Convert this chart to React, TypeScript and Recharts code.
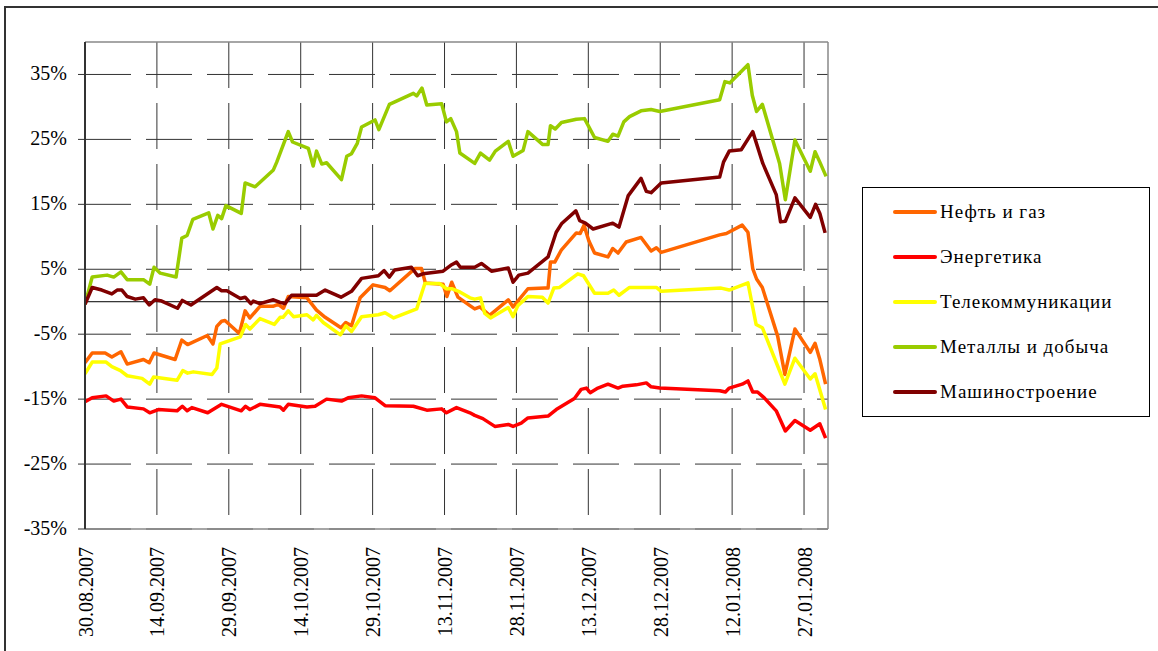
import { LineChart, Line, XAxis, YAxis, CartesianGrid, ReferenceLine, Legend } from 'recharts';

const FONT = "'Liberation Serif', Tinos, 'Times New Roman', 'DejaVu Serif', serif";

const seriesNames = ['Нефть и газ', 'Энергетика', 'Телекоммуникации', 'Металлы и добыча', 'Машиностроение'];
const seriesColors = ['#FF6600', '#FF0000', '#FFFF00', '#99CC00', '#800000'];

// x = days since 30.08.2007
const tickDays = [0, 15, 30, 45, 60, 75, 90, 105, 120, 135, 150];
const tickLabels = [
  '30.08.2007', '14.09.2007', '29.09.2007', '14.10.2007', '29.10.2007', '13.11.2007',
  '28.11.2007', '13.12.2007', '28.12.2007', '12.01.2008', '27.01.2008',
];
const yTicks = [-35, -25, -15, -5, 5, 15, 25, 35];

// [day, % change]
const oilGas = [
  [0, -9.4], [1.5, -7.9], [4.2, -7.9], [5.6, -8.5], [7.5, -7.7], [8.8, -9.6], [12.2, -8.9], [13.4, -9.4],
  [14.4, -7.9], [18.8, -8.9], [20.2, -5.9], [21.4, -6.6], [25.5, -5.2], [26.7, -6.5], [27.5, -3.8], [28.5, -3.0],
  [29.2, -2.9], [32.2, -4.9], [33.4, -1.4], [34.4, -2.5], [36.5, -0.7], [39.2, -0.7], [40.3, -0.4], [41.4, -1.0],
  [42.4, 0.8], [46.3, 0.6], [48.3, -1.3], [50.1, -2.4], [53.4, -4.0], [54.4, -3.2], [55.6, -3.7], [57.4, 0.6],
  [60.1, 2.6], [62.6, 2.2], [63.6, 1.7], [68.8, 5.1], [70.2, 5.1], [71.0, 2.9], [74.7, 2.7], [75.5, 0.8],
  [76.5, 3.0], [77.8, 0.7], [80.3, -0.6], [81.3, -1.1], [82.4, -0.8], [84.4, -2.1], [88.3, 0.3], [89.3, -0.8],
  [92.4, 2.0], [95.9, 2.1], [96.6, 2.1], [97.1, 6.1], [98.0, 6.1], [99.4, 8.0], [102.5, 10.6], [103.3, 10.5],
  [104.1, 11.8], [105.1, 9.4], [106.3, 7.5], [109.1, 6.9], [110.1, 8.2], [111.2, 7.5], [112.9, 9.2], [116.0, 9.9],
  [118.1, 7.8], [119.2, 8.3], [120.2, 7.6], [132.4, 10.3], [133.8, 10.5], [137.1, 11.8], [138.3, 10.7], [139.3, 5.1],
  [140.1, 3.5], [141.3, 2.2], [144.5, -5.3], [146.0, -11.2], [148.1, -4.2], [151.3, -7.8], [152.3, -6.4], [153.3, -8.9],
  [154.5, -12.7],
];

const energy = [
  [0, -15.4], [1.5, -14.8], [4.4, -14.5], [6.0, -15.3], [7.5, -15.0], [8.8, -16.2], [12.2, -16.5], [13.5, -17.1],
  [15.3, -16.6], [19.2, -16.8], [20.3, -16.1], [21.3, -16.8], [22.3, -16.3], [25.6, -17.1], [28.5, -15.8], [32.6, -16.8],
  [33.5, -16.1], [34.4, -16.6], [36.5, -15.8], [40.7, -16.2], [41.4, -16.7], [42.4, -15.8], [46.3, -16.2], [48.0, -16.1],
  [50.4, -15.0], [53.5, -15.3], [54.9, -14.8], [57.7, -14.5], [60.5, -14.8], [62.6, -16.0], [68.5, -16.1], [71.3, -16.7],
  [74.4, -16.5], [75.4, -17.1], [77.5, -16.3], [80.3, -17.1], [81.3, -17.5], [83.0, -18.0], [85.5, -19.2], [88.3, -18.9],
  [89.3, -19.2], [91.0, -18.7], [92.4, -17.9], [96.6, -17.6], [98.3, -16.6], [102.1, -14.9], [103.5, -13.5], [104.6, -13.3],
  [105.4, -14.0], [107.0, -13.3], [109.1, -12.7], [111.2, -13.3], [112.2, -13.0], [115.0, -12.8], [117.1, -12.5], [118.1, -13.1],
  [119.9, -13.3], [132.4, -13.7], [133.6, -13.9], [134.4, -13.3], [137.1, -12.7], [138.3, -12.2], [139.3, -13.9], [140.3, -13.9],
  [141.7, -14.8], [144.2, -16.8], [146.1, -19.9], [148.1, -18.3], [151.3, -19.8], [153.3, -18.8], [154.5, -21.0],
];

const telecom = [
  [0, -11.1], [1.5, -9.3], [4.4, -9.3], [5.6, -10.0], [7.4, -10.6], [8.8, -11.4], [11.9, -11.8], [13.5, -12.7],
  [14.3, -11.6], [19.2, -12.1], [20.4, -10.6], [21.4, -11.0], [22.6, -10.8], [26.5, -11.2], [27.5, -10.2], [28.2, -6.5],
  [32.4, -5.4], [33.5, -3.5], [34.4, -4.2], [36.5, -2.6], [39.5, -3.5], [40.7, -2.4], [41.3, -2.4], [42.4, -1.4],
  [43.5, -2.3], [46.3, -2.0], [47.6, -2.8], [48.3, -2.1], [49.7, -3.2], [53.3, -5.1], [54.4, -3.7], [55.6, -4.6],
  [57.7, -2.3], [61.2, -2.0], [62.6, -1.7], [64.4, -2.5], [69.2, -1.1], [70.9, 2.8], [74.0, 2.8], [75.4, 2.0],
  [76.5, 2.0], [78.2, 1.5], [80.3, 0.6], [81.3, 0.4], [82.5, 0.6], [83.4, -1.8], [84.6, -2.5], [88.3, -0.9],
  [89.3, -2.3], [90.3, -0.6], [92.4, 0.8], [95.4, 0.7], [96.6, -0.2], [97.8, 2.1], [99.0, 2.2], [102.8, 4.3],
  [104.0, 4.0], [106.3, 1.3], [109.1, 1.3], [110.3, 1.8], [111.4, 1.0], [113.6, 2.2], [119.2, 2.2], [120.2, 1.6],
  [132.7, 2.1], [134.4, 1.8], [138.3, 2.9], [140.0, -3.5], [141.3, -4.0], [144.5, -9.9], [146.0, -12.7], [148.1, -8.7],
  [151.3, -11.9], [152.3, -11.1], [154.5, -16.6],
];

const metals = [
  [0, -0.4], [1.5, 3.8], [4.6, 4.1], [6.0, 3.8], [7.5, 4.6], [8.8, 3.4], [12.2, 3.4], [13.5, 2.7],
  [14.4, 5.3], [15.7, 4.4], [19.0, 3.8], [20.2, 9.8], [21.3, 10.2], [22.5, 12.7], [25.8, 13.7], [26.7, 11.2],
  [27.7, 13.3], [28.5, 12.8], [29.4, 14.8], [32.6, 13.6], [33.4, 18.3], [35.5, 17.7], [39.3, 20.3], [40.0, 21.5],
  [42.4, 26.2], [43.3, 24.6], [46.6, 23.6], [47.6, 20.9], [48.3, 23.2], [49.4, 21.2], [50.4, 21.4], [53.5, 18.8],
  [54.6, 22.4], [55.6, 22.8], [56.8, 24.4], [57.7, 26.9], [60.5, 28.0], [61.3, 26.5], [63.5, 30.4], [68.5, 32.1],
  [69.2, 31.7], [70.3, 32.9], [71.3, 30.3], [74.4, 30.5], [75.4, 27.7], [76.3, 28.2], [77.5, 26.2], [78.2, 22.9],
  [81.3, 21.3], [82.5, 22.9], [84.4, 21.8], [85.6, 23.2], [88.3, 24.7], [89.3, 22.4], [91.4, 23.3], [92.4, 26.2],
  [95.5, 24.2], [96.6, 24.2], [97.1, 27.1], [98.1, 26.6], [99.4, 27.6], [102.5, 28.1], [104.2, 28.2], [106.3, 25.3],
  [109.1, 24.7], [110.1, 25.8], [111.2, 25.5], [112.4, 27.7], [113.6, 28.5], [116.0, 29.4], [118.1, 29.6], [119.9, 29.3],
  [132.4, 31.1], [133.5, 33.9], [134.5, 33.7], [138.3, 36.5], [139.2, 31.8], [140.1, 29.3], [141.3, 30.4], [144.9, 21.3],
  [146.1, 15.7], [148.1, 24.9], [151.3, 20.1], [152.3, 23.1], [153.3, 21.5], [154.6, 19.3],
];

const machinery = [
  [0, -0.4], [1.5, 2.2], [3.5, 1.8], [5.6, 1.2], [6.7, 1.8], [7.7, 1.8], [8.8, 0.8], [10.5, 0.4],
  [12.2, 0.6], [13.4, -0.5], [14.6, 0.3], [16.0, 0.1], [19.3, -1.0], [20.3, 0.2], [22.1, -0.5], [27.5, 2.2],
  [28.5, 1.7], [29.6, 1.7], [32.4, 0.5], [33.4, 0.7], [34.6, -0.3], [35.1, 0.1], [36.5, -0.3], [39.3, 0.3],
  [40.7, -0.1], [41.7, -0.3], [43.1, 1.0], [46.9, 1.0], [48.3, 1.0], [50.1, 1.8], [53.4, 0.7], [55.6, 1.6],
  [57.7, 3.6], [61.2, 4.0], [62.4, 4.8], [63.5, 3.8], [64.6, 4.9], [68.1, 5.3], [69.4, 4.0], [70.5, 4.3],
  [74.7, 4.7], [76.5, 5.7], [77.5, 6.1], [78.3, 5.3], [81.3, 5.3], [82.7, 5.9], [84.8, 4.7], [88.3, 5.2],
  [89.3, 3.0], [90.5, 4.1], [92.4, 4.4], [96.6, 6.9], [98.3, 10.7], [99.4, 12.0], [102.4, 14.0], [103.2, 12.5],
  [104.4, 12.1], [106.0, 11.2], [110.1, 12.1], [111.4, 11.5], [113.3, 16.3], [116.0, 19.0], [117.1, 17.0], [118.1, 16.8],
  [120.2, 18.3], [132.4, 19.2], [133.2, 21.5], [134.4, 23.2], [136.9, 23.4], [139.3, 26.2], [141.4, 21.3], [144.2, 16.5],
  [145.1, 12.3], [146.1, 12.4], [148.1, 16.0], [151.3, 13.0], [152.4, 15.0], [153.3, 13.6], [154.4, 10.6],
];

const seriesData = [oilGas, energy, telecom, metals, machinery];

const toPoints = (pairs: number[][]) => pairs.map(([day, value]) => ({ day, value }));

function YTick({ x, y, payload }: any) {
  return (
    <text x={x} y={y + 6} textAnchor="end" fill="#000" fontSize={20} style={{ fontFamily: FONT }}>
      {`${payload.value}%`}
    </text>
  );
}

function XTick({ x, y, payload }: any) {
  const idx = tickDays.indexOf(payload.value);
  const tx = x + 7.5;
  return (
    <text
      x={tx}
      y={y}
      transform={`rotate(-90, ${tx}, ${y})`}
      textAnchor="end"
      fill="#000"
      fontSize={20}
      style={{ fontFamily: FONT }}
    >
      {tickLabels[idx]}
    </text>
  );
}

function LegendBox() {
  return (
    <div
      style={{
        width: 286,
        height: 228,
        border: '1px solid #000',
        background: '#fff',
        position: 'relative',
        fontFamily: FONT,
      }}
    >
      {seriesNames.map((name, i) => (
        <div
          key={name}
          style={{
            position: 'absolute',
            left: 30,
            top: 24 + i * 45 - 12,
            height: 24,
            display: 'flex',
            alignItems: 'center',
            whiteSpace: 'nowrap',
          }}
        >
          <span style={{ width: 44, height: 4, borderRadius: 2, background: seriesColors[i], display: 'inline-block' }} />
          <span style={{ marginLeft: 3, fontSize: 19, letterSpacing: 1, color: '#000' }}>{name}</span>
        </div>
      ))}
    </div>
  );
}

export default function App() {
  return (
    <div style={{ position: 'absolute', left: 0, top: 0, width: 1158, height: 651, background: '#fff', overflow: 'hidden', fontFamily: FONT }}>
      <div
        style={{
          position: 'absolute',
          left: 4,
          top: 6,
          width: 1160,
          height: 660,
          borderLeft: '2px solid #333',
          borderTop: '2px solid #333',
        }}
      />
      <LineChart width={1158} height={651} margin={{ top: 42, right: 330, bottom: 0, left: 0 }}>
        <CartesianGrid
          stroke="#333"
          strokeDasharray="46 15"
          horizontalValues={yTicks}
          verticalValues={tickDays.slice(1)}
        />
        <XAxis
          type="number"
          dataKey="day"
          domain={[0, 155]}
          ticks={tickDays}
          interval={0}
          allowDataOverflow
          height={122}
          tickLine={false}
          tickMargin={12}
          axisLine={{ stroke: '#888', strokeWidth: 1.5 }}
          tick={<XTick />}
        />
        <YAxis
          type="number"
          domain={[-35, 40]}
          ticks={yTicks}
          interval={0}
          width={85}
          tickSize={7}
          tickMargin={11}
          allowDataOverflow
          axisLine={{ stroke: '#333', strokeWidth: 2 }}
          tickLine={{ stroke: '#333' }}
          tick={<YTick />}
        />
        <ReferenceLine y={40} stroke="#888" strokeWidth={1.5} />
        <ReferenceLine x={155} stroke="#888" strokeWidth={1.5} />
        <ReferenceLine y={0} stroke="#000" strokeWidth={1} />
        {seriesData.map((pairs, i) => (
          <Line
            key={seriesNames[i]}
            data={toPoints(pairs)}
            dataKey="value"
            name={seriesNames[i]}
            type="linear"
            stroke={seriesColors[i]}
            strokeWidth={3.5}
            strokeLinejoin="round"
            dot={false}
            activeDot={false}
            isAnimationActive={false}
          />
        ))}
        <Legend
          layout="vertical"
          align="center"
          verticalAlign="middle"
          wrapperStyle={{ left: 862, top: 187, width: 288, height: 230 }}
          content={() => <LegendBox />}
        />
      </LineChart>
    </div>
  );
}
